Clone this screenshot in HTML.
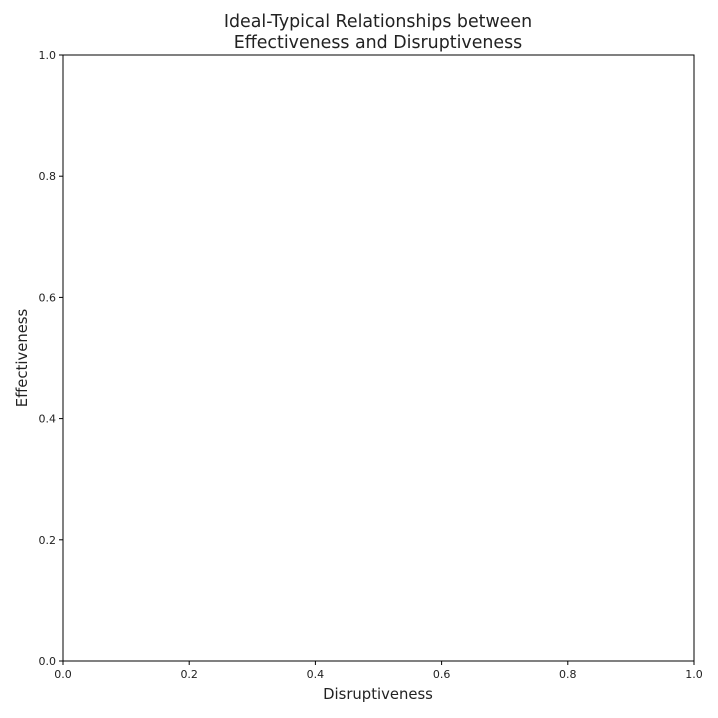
<!DOCTYPE html>
<html><head><meta charset="utf-8"><style>
html,body{margin:0;padding:0;background:#fff;}
svg{display:block;font-family:"DejaVu Sans","Liberation Sans",sans-serif;}
</style></head><body>
<svg id="chart" width="718" height="718">
<text x="378" y="27" text-anchor="middle" font-size="17.4" fill="#222">Ideal-Typical Relationships between</text>
<text x="378" y="48" text-anchor="middle" font-size="17.4" fill="#222">Effectiveness and Disruptiveness</text>
<rect x="63" y="55" width="631" height="606" fill="none" stroke="#000" stroke-width="1"/>
<g id="xt"></g>
<g id="yt"></g>
<text x="378" y="699" text-anchor="middle" font-size="14.8" fill="#222">Disruptiveness</text>
<text transform="translate(27,358) rotate(-90)" text-anchor="middle" font-size="14.8" fill="#222">Effectiveness</text>
</svg>
<script>
const xTicks=[0,0.2,0.4,0.6,0.8,1.0];
const yTicks=[0,0.2,0.4,0.6,0.8,1.0];
const X0=63,X1=694,Y0=661,Y1=55;
const sx=v=>X0+v*(X1-X0), sy=v=>Y0-v*(Y0-Y1);
const NS="http://www.w3.org/2000/svg";
const xt=document.getElementById('xt'), yt=document.getElementById('yt');
xTicks.forEach(v=>{
  const l=document.createElementNS(NS,'line');
  l.setAttribute('x1',sx(v));l.setAttribute('x2',sx(v));l.setAttribute('y1',Y0);l.setAttribute('y2',Y0+4);l.setAttribute('stroke','#000');
  
  
  xt.appendChild(l);
  const t=document.createElementNS(NS,'text');
  t.setAttribute('x',sx(v));t.setAttribute('y',Y0+17);t.setAttribute('text-anchor','middle');t.setAttribute('font-size','11');t.setAttribute('fill','#222');
  t.textContent=v.toFixed(1);
  
  
  xt.appendChild(t);
});
yTicks.forEach(v=>{
  const l=document.createElementNS(NS,'line');
  l.setAttribute('x1',X0-4);l.setAttribute('x2',X0);l.setAttribute('y1',sy(v));l.setAttribute('y2',sy(v));l.setAttribute('stroke','#000');
  
  
  yt.appendChild(l);
  const t=document.createElementNS(NS,'text');
  t.setAttribute('x',X0-7);t.setAttribute('y',sy(v)+4);t.setAttribute('text-anchor','end');t.setAttribute('font-size','11');t.setAttribute('fill','#222');
  t.textContent=v.toFixed(1);
  
  
  yt.appendChild(t);
});
</script>
</body></html>
